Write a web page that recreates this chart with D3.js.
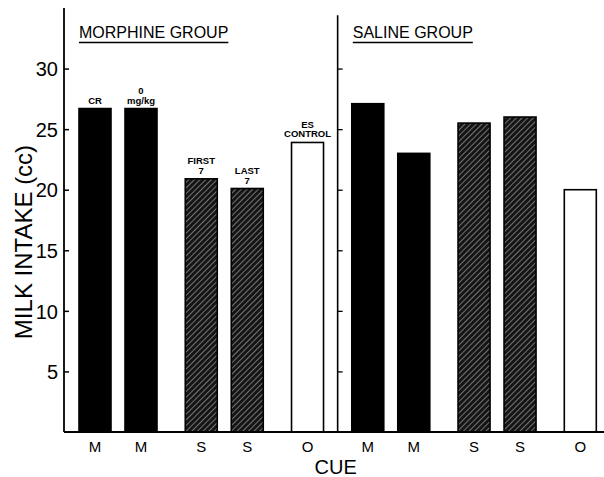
<!DOCTYPE html>
<html>
<head>
<meta charset="utf-8">
<script src="https://cdn.jsdelivr.net/npm/d3@7"></script>
<style>
  body { margin: 0; background: #fff; }
  svg { display: block; }
  text { font-family: "Liberation Sans", Arial, sans-serif; fill: #000; }
</style>
</head>
<body>
<svg id="chart"></svg>
<script>
// values
var groups = ["MORPHINE GROUP", "SALINE GROUP"];
var barGroup = [0, 0, 0, 0, 0, 1, 1, 1, 1, 1];
var cues = ["M", "M", "S", "S", "O", "M", "M", "S", "S", "O"];
var intake = [26.7, 26.7, 20.9, 20.1, 23.9, 27.1, 23.0, 25.5, 26.0, 20.0];
var barNotes = [["CR"], ["0", "mg/kg"], ["FIRST", "7"], ["LAST", "7"], ["ES", "CONTROL"], [], [], [], [], []];
var yTicks = [5, 10, 15, 20, 25, 30];

var W = 604, H = 477;
var svg = d3.select("#chart").attr("width", W).attr("height", H);

var y = d3.scaleLinear().domain([0, 35]).range([432, 8]);

// slot positions: one unit per bar, a bit extra when the cue changes
var slots = [];
var pos = 0;
cues.forEach(function (c, i) {
    if (i > 0) pos += (c !== cues[i - 1]) ? 1.31 : 1;
    slots.push(pos);
});
var x = d3.scaleLinear().domain([0, 1]).range([95, 141]);
var barW = 32;

var data = cues.map(function (c, i) {
    return { cue: c, value: intake[i], group: barGroup[i], slot: slots[i], notes: barNotes[i] };
});

// hatch pattern
var defs = svg.append("defs");
var pat = defs.append("pattern")
    .attr("id", "hatch")
    .attr("patternUnits", "userSpaceOnUse")
    .attr("width", 4).attr("height", 4)
    .attr("patternTransform", "rotate(45)");
pat.append("rect").attr("width", 4).attr("height", 4).attr("fill", "#151515");
pat.append("line").attr("x1", 0).attr("y1", 0).attr("x2", 0).attr("y2", 4)
    .attr("stroke", "#d0d0d0").attr("stroke-width", 1);

function fillFor(c) {
    if (c === "M") return "#000";
    if (c === "S") return "url(#hatch)";
    return "#fff";
}

// bars
svg.selectAll("rect.bar")
    .data(data)
    .enter()
    .append("rect")
    .attr("class", "bar")
    .attr("x", function (d) { return x(d.slot) - barW / 2; })
    .attr("y", function (d) { return y(d.value); })
    .attr("width", barW)
    .attr("height", function (d) { return y(0) - y(d.value); })
    .attr("fill", function (d) { return fillFor(d.cue); })
    .attr("stroke", "#000")
    .attr("stroke-width", 1.6);

// small notes above bars
data.forEach(function (d) {
    var n = d.notes.length;
    d.notes.forEach(function (t, k) {
        svg.append("text")
            .attr("x", x(d.slot))
            .attr("y", y(d.value) - 5 - (n - 1 - k) * 9.5)
            .attr("text-anchor", "middle")
            .attr("font-size", 9.5)
            .attr("font-weight", "bold")
            .text(t);
    });
});

// left axis
var leftX = 64;
var gLeft = svg.append("g").attr("transform", "translate(" + leftX + ",0)");
gLeft.call(d3.axisRight(y).tickValues(yTicks).tickSize(5).tickFormat(""));
gLeft.select(".domain").remove();
gLeft.append("line").attr("x1", 0).attr("x2", 0).attr("y1", y(35)).attr("y2", y(0))
    .attr("stroke", "#000").attr("stroke-width", 1.8);
gLeft.selectAll(".tick line").attr("stroke-width", 1.5);
gLeft.selectAll(".tick").append("text")
    .attr("x", -6).attr("dy", "0.36em")
    .attr("text-anchor", "end")
    .attr("font-size", 20)
    .text(function (d) { return d; });

// right (saline) axis between the groups
var lastLeft = data.filter(function (d) { return d.group === 0; }).pop();
var firstRight = data.filter(function (d) { return d.group === 1; })[0];
var rightX = (x(lastLeft.slot) + x(firstRight.slot)) / 2;
var gRight = svg.append("g").attr("transform", "translate(" + rightX + ",0)");
gRight.call(d3.axisRight(y).tickValues(yTicks).tickSize(5).tickFormat(""));
gRight.select(".domain").remove();
gRight.append("line").attr("x1", 0).attr("x2", 0).attr("y1", y(34.4)).attr("y2", y(0))
    .attr("stroke", "#000").attr("stroke-width", 1.6);
gRight.selectAll(".tick line").attr("stroke-width", 1.3);

// baseline
svg.append("line")
    .attr("x1", leftX).attr("x2", W).attr("y1", y(0)).attr("y2", y(0))
    .attr("stroke", "#000").attr("stroke-width", 1.8);

// cue labels
svg.selectAll("text.cue")
    .data(data)
    .enter()
    .append("text")
    .attr("class", "cue")
    .attr("x", function (d) { return x(d.slot); })
    .attr("y", 452)
    .attr("text-anchor", "middle")
    .attr("font-size", 15)
    .text(function (d) { return d.cue; });

svg.append("text")
    .attr("x", rightX - 2).attr("y", 474)
    .attr("text-anchor", "middle")
    .attr("font-size", 20)
    .text("CUE");

// group headings
var headX = [x(data[0].slot) - barW / 2, x(firstRight.slot) - barW / 2 + 1];
groups.forEach(function (g, i) {
    var t = svg.append("text")
        .attr("x", headX[i]).attr("y", 38)
        .attr("font-size", 16)
        .text(g);
    var w = t.node().getComputedTextLength();
    svg.append("line")
        .attr("x1", headX[i]).attr("x2", headX[i] + w)
        .attr("y1", 42.5).attr("y2", 42.5)
        .attr("stroke", "#000").attr("stroke-width", 1.4);
});

// y label
svg.append("text")
    .attr("transform", "translate(32," + 242 + ") rotate(-90)")
    .attr("text-anchor", "middle")
    .attr("font-size", 24)
    .text("MILK INTAKE (cc)");
</script>
</body>
</html>
